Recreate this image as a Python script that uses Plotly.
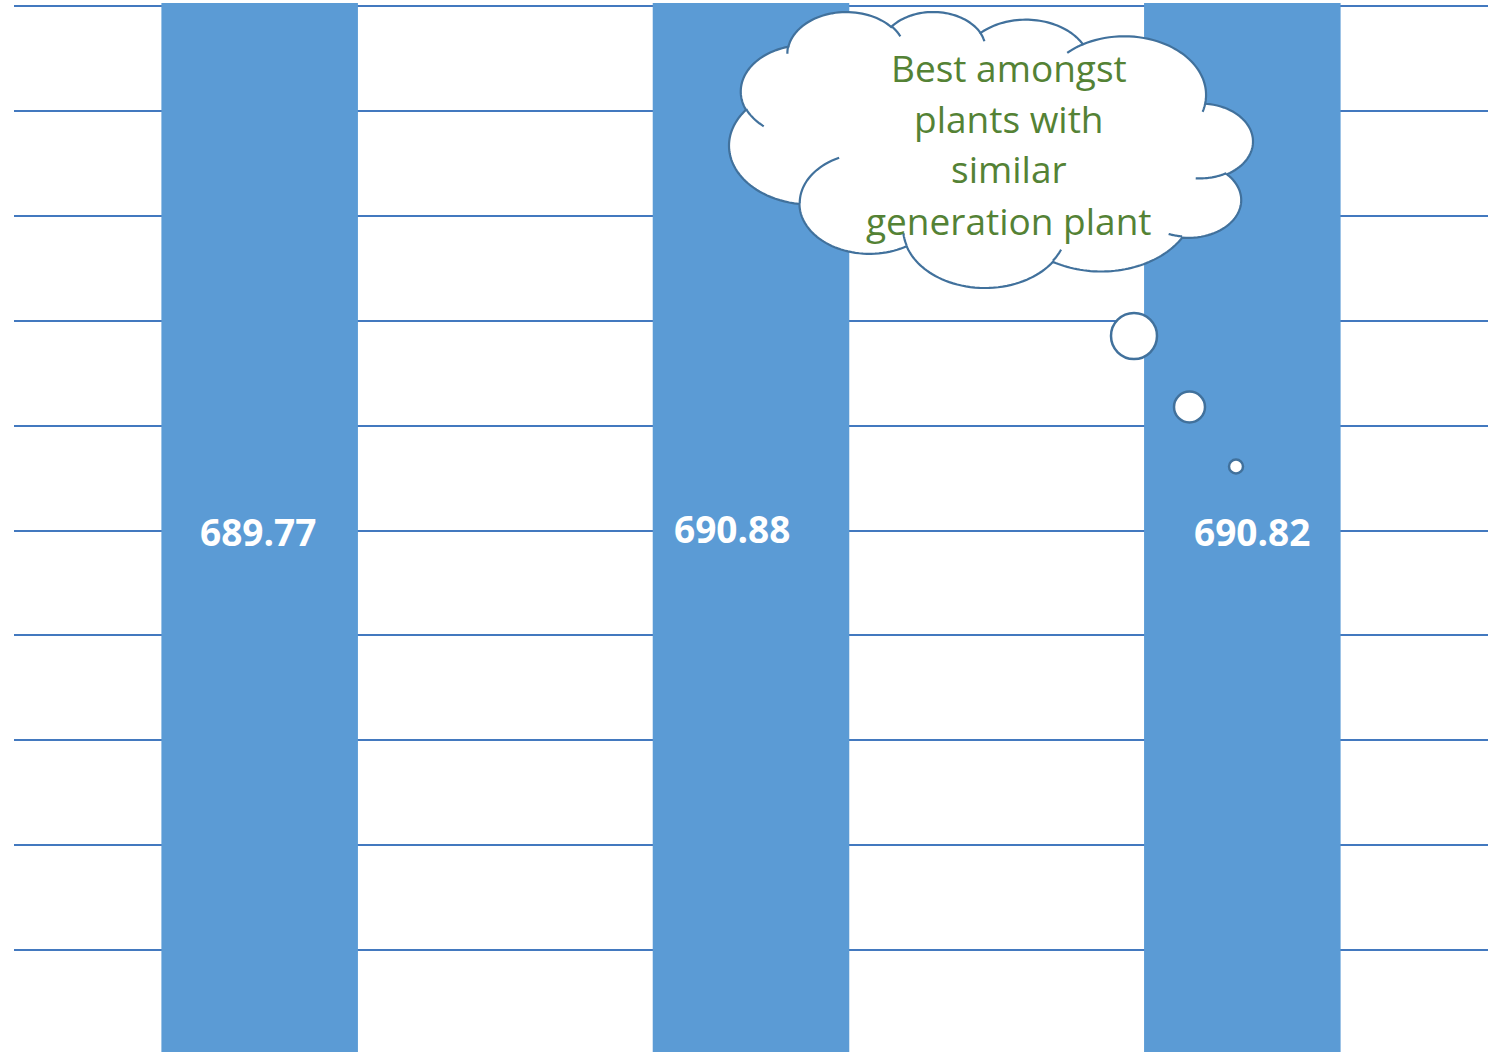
import math
import plotly.graph_objects as go

# ---------------- data ----------------
categories = ["Plant A", "Plant B", "Plant C"]
values = [689.77, 690.88, 690.82]
callout_lines = ["Best amongst", "plants with", "similar", "generation plant"]

# ---------------- layout geometry ----------------
FIG_W, FIG_H = 1498, 1052
ML, MR, MT, MB = 14, 10, 3, 0
PW = FIG_W - ML - MR
PH = FIG_H - MT - MB
PX_PER_UNIT = 104.9
Y_TOP = 10 + (6 - MT) / PX_PER_UNIT
Y_BOT = Y_TOP - PH / PX_PER_UNIT


def pxr(x):
    return (x - ML) / PW


def pyr(y):
    return 1 - (y - MT) / PH


BAR_COLOR = "#5B9BD5"
GRID_COLOR = "#4379BF"
OUTLINE = "#41719C"
TEXT_GREEN = "#548235"

fig = go.Figure(
    go.Bar(
        x=categories,
        y=values,
        marker=dict(color=BAR_COLOR, line=dict(width=0)),
        hovertemplate="%{x}: %{y:.2f}<extra></extra>",
    )
)

# value labels (manually nudged positions as in the reference)
label_y = [531, 528, 531]
label_dx = [-2, -19, 10]
annotations = []
for c, v, yy, dx in zip(categories, values, label_y, label_dx):
    annotations.append(
        dict(
            x=c, xref="x", y=pyr(yy), yref="paper",
            text=f"{v:.2f}", showarrow=False, xshift=dx,
            xanchor="center", yanchor="middle",
            font=dict(family="Open Sans", size=37, color="white", weight="bold"),
        )
    )

# ---------------- cloud callout (OOXML preset 'cloud', flipped horizontally) ----------------
OUT_ARCS = [
    (6753, 9190, -11429249, 7426832),
    (5333, 7267, -8646143, 5396714),
    (4365, 5945, -8748475, 5983381),
    (4857, 6595, -7859164, 7034504),
    (5333, 7273, -4722533, 6541615),
    (6775, 9220, -2776035, 7816140),
    (5785, 7867, 37501, 6842000),
    (6752, 9215, 1347096, 6910353),
    (7720, 10543, 3974558, 4542661),
    (4360, 5918, -16496525, 8804134),
    (4345, 5945, -14809710, 9151131),
]
START = (3900, 14370)
CREASES = [
    ((4693, 26177), (4345, 5945, 5204520, 1585770)),
    ((6928, 34899), (4360, 5918, 4416628, 686848)),
    ((16478, 39090), (6752, 9215, 8257449, 844866)),
    ((28827, 34751), (6752, 9215, 387196, 959901)),
    ((34129, 22954), (5785, 7867, -4217541, 4255042)),
    ((41798, 15354), (5333, 7273, 1819082, 1665090)),
    ((38324, 5426), (4857, 6595, -824660, 891534)),
    ((29078, 3952), (4857, 6595, -8950887, 1091722)),
    ((22141, 4720), (4365, 5945, -9809656, 1061181)),
    ((14000, 5192), (6753, 9190, -4002417, 739161)),
    ((4127, 15789), (6753, 9190, 9459261, 711490)),
]


def arc_points(p, wR, hR, st, sw, visual, n=48):
    a0 = math.radians(st / 60000.0)
    a1 = math.radians((st + sw) / 60000.0)

    def par(a):
        if visual:
            return math.atan2(wR * math.sin(a), hR * math.cos(a))
        return a

    t0 = par(a0)
    cx = p[0] - wR * math.cos(t0)
    cy = p[1] - hR * math.sin(t0)
    pts = []
    for i in range(1, n + 1):
        t = par(a0 + (a1 - a0) * i / n)
        pts.append((cx + wR * math.cos(t), cy + hR * math.sin(t)))
    return pts


def outline(visual):
    pts = [START]
    for arc in OUT_ARCS:
        pts += arc_points(pts[-1], *arc, visual=visual)
    return pts


cands = [outline(True), outline(False)]
errs = [math.hypot(c[-1][0] - START[0], c[-1][1] - START[1]) for c in cands]
use_visual = errs[0] <= errs[1]
out_pts = cands[0] if use_visual else cands[1]

# bounding box of the cloud in the picture
BX0, BX1, BY0, BY1 = 729, 1253, 12, 288
xs = [43200 - p[0] for p in out_pts]
ys = [p[1] for p in out_pts]
minx, maxx, miny, maxy = min(xs), max(xs), min(ys), max(ys)


def to_paper(p):
    x = 43200 - p[0]
    y = p[1]
    X = BX0 + (x - minx) / (maxx - minx) * (BX1 - BX0)
    Y = BY0 + (y - miny) / (maxy - miny) * (BY1 - BY0)
    return pxr(X), pyr(Y)


def path_str(pts, close):
    q = [to_paper(p) for p in pts]
    s = "M %.5f,%.5f " % q[0] + " ".join("L %.5f,%.5f" % pp for pp in q[1:])
    return s + (" Z" if close else "")


shapes = []
shapes.append(
    dict(type="path", xref="paper", yref="paper", path=path_str(out_pts, True),
         fillcolor="white", line=dict(color=OUTLINE, width=2.2), layer="above")
)
for start, arc in CREASES:
    pts = [start] + arc_points(start, *arc, visual=use_visual, n=24)
    shapes.append(
        dict(type="path", xref="paper", yref="paper", path=path_str(pts, False),
             fillcolor="rgba(0,0,0,0)", line=dict(color=OUTLINE, width=2.2), layer="above")
    )

# tail bubbles
for cx, cy, r in [(1134, 336, 23), (1189.5, 407, 15.5), (1236, 466.5, 7)]:
    shapes.append(
        dict(type="circle", xref="paper", yref="paper",
             x0=pxr(cx - r), x1=pxr(cx + r), y0=pyr(cy + r), y1=pyr(cy - r),
             fillcolor="white", line=dict(color=OUTLINE, width=2.5), layer="above")
    )

# callout text
for line, yy in zip(callout_lines, [67, 118, 169, 220]):
    annotations.append(
        dict(x=pxr(1009), y=pyr(yy), xref="paper", yref="paper", text=line,
             showarrow=False, xanchor="center", yanchor="middle",
             font=dict(family="Open Sans", size=37, color=TEXT_GREEN))
    )

fig.update_layout(
    width=FIG_W, height=FIG_H,
    margin=dict(l=ML, r=MR, t=MT, b=MB, pad=0),
    paper_bgcolor="white", plot_bgcolor="white",
    bargap=0.6, showlegend=False,
    xaxis=dict(range=[-0.5, 2.5], showgrid=False, showticklabels=False,
               zeroline=False, showline=False, ticks=""),
    yaxis=dict(range=[Y_BOT, Y_TOP], tick0=0, dtick=1, showgrid=True,
               gridcolor=GRID_COLOR, gridwidth=2, showticklabels=False,
               zeroline=False, showline=False, ticks=""),
    shapes=shapes, annotations=annotations,
)

fig.write_html("out.html")
